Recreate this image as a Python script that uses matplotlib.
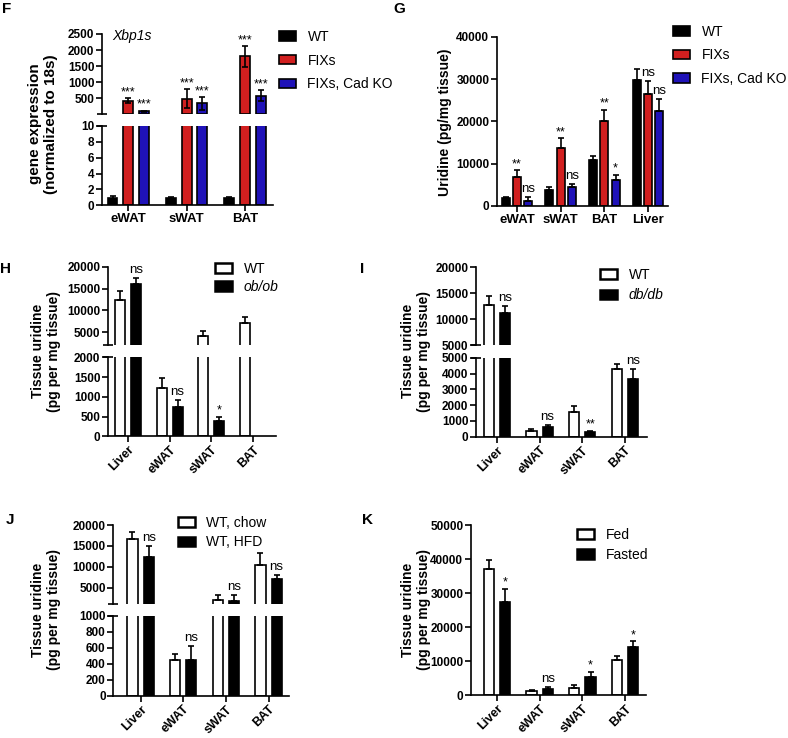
import numpy as np
import matplotlib
matplotlib.use('Agg')
import matplotlib.pyplot as plt
from matplotlib.patches import Patch

plt.rcParams['font.family'] = ['Liberation Sans', 'DejaVu Sans']

# ---------------- data ----------------
F_cats = ['eWAT', 'sWAT', 'BAT']
F_series = ['WT', 'FIXs', 'FIXs, Cad KO']
F_wt = [0.95, 0.93, 0.95]
F_wt_err = [0.22, 0.10, 0.13]
F_fix = [420, 480, 1800]
F_fix_err = [70, 290, 320]
F_ko = [80, 330, 570]
F_ko_err = [25, 200, 170]
F_fix_sig = ['***', '***', '***']
F_ko_sig = ['***', '***', '***']

G_cats = ['eWAT', 'sWAT', 'BAT', 'Liver']
G_series = ['WT', 'FIXs', 'FIXs, Cad KO']
G_wt = [1800, 3800, 10800, 29800]
G_wt_err = [300, 600, 950, 2500]
G_fix = [6900, 13800, 20200, 26500]
G_fix_err = [1600, 2200, 2500, 3000]
G_ko = [1200, 4500, 6100, 22500]
G_ko_err = [1000, 650, 1300, 2800]
G_fix_sig = ['**', '**', '**', 'ns']
G_ko_sig = ['ns', 'ns', '*', 'ns']

tissues = ['Liver', 'eWAT', 'sWAT', 'BAT']

H_series = ['WT', 'ob/ob']
H_wt = [12400, 1230, 4100, 7200]
H_wt_err = [2100, 240, 1300, 1350]
H_ob = [16000, 740, 400, np.nan]
H_ob_err = [1500, 170, 100, np.nan]
H_sig = ['ns', 'ns', '*', '']

I_series = ['WT', 'db/db']
I_wt = [12700, 380, 1550, 4320]
I_wt_err = [1800, 110, 420, 320]
I_db = [11100, 600, 280, 3680]
I_db_err = [1400, 150, 100, 620]
I_sig = ['ns', 'ns', '**', 'ns']

J_series = ['WT, chow', 'WT, HFD']
J_chow = [16600, 445, 2000, 10400]
J_chow_err = [1700, 80, 1300, 2950]
J_hfd = [12400, 445, 1800, 7000]
J_hfd_err = [2650, 175, 1500, 1000]
J_sig = ['ns', 'ns', 'ns', 'ns']

K_series = ['Fed', 'Fasted']
K_fed = [37200, 1200, 2100, 10300]
K_fed_err = [2400, 400, 800, 1250]
K_fast = [27400, 1900, 5400, 14200]
K_fast_err = [3800, 500, 1500, 1700]
K_sig = ['*', 'ns', '*', '*']

# ---------------- styling helpers ----------------
W, H = 788, 738
fig = plt.figure(figsize=(W / 100, H / 100), dpi=100)
LW = 1.2
TICK_FS = 8.5
XT_FS = 9.5
RED = '#d11f1f'
BLUE = '#1f12b8'


def rect(x0, y0, x1, y1):
    return [x0 / W, 1 - y1 / H, (x1 - x0) / W, (y1 - y0) / H]


def base_axes(r, bottom=True):
    ax = fig.add_axes(r)
    ax.patch.set_alpha(0)
    for s in ('top', 'right'):
        ax.spines[s].set_visible(False)
    for s in ('left', 'bottom'):
        ax.spines[s].set_linewidth(LW)
    ax.spines['bottom'].set_visible(bottom)
    ax.tick_params(direction='out', length=4, width=LW, pad=1.5)
    if not bottom:
        ax.tick_params(axis='x', bottom=False, labelbottom=False)
    return ax


def set_yticks(ax, ticks, labels=None):
    ax.set_yticks(ticks)
    ax.set_yticklabels([str(t) for t in ticks] if labels is None else labels,
                       fontsize=TICK_FS, fontweight='bold')


def set_xticks(ax, cats, rotate=False):
    x = np.arange(len(cats))
    ax.set_xticks(x)
    if rotate:
        ax.set_xticklabels(cats, fontsize=9, fontweight='bold', rotation=45,
                           ha='right', rotation_mode='anchor')
    else:
        ax.set_xticklabels(cats, fontsize=XT_FS, fontweight='bold')


def break_marks(ax_up, ax_lo):
    for ax, y in ((ax_up, 0), (ax_lo, 1)):
        w = 5 / (ax.get_position().width * W)
        ax.plot([-w, w], [y, y], transform=ax.transAxes, color='black', lw=LW,
                clip_on=False, solid_capstyle='butt')


def bars(axes, xpos, vals, errs, width, face, symmetric=False):
    vals = np.asarray(vals, float)
    errs = np.asarray(errs, float)
    yerr = errs if symmetric else [np.zeros_like(errs), errs]
    for ax in axes:
        ax.bar(xpos, vals, width, facecolor=face, edgecolor='black', linewidth=LW, zorder=2)
        ax.errorbar(xpos, vals, yerr=yerr, fmt='none', ecolor='black', elinewidth=LW,
                    capsize=2.5, capthick=LW, zorder=3)


def place_sig(axes, xpos, tops, labels):
    for xi, t, lab in zip(xpos, tops, labels):
        if not lab or np.isnan(t):
            continue
        target = axes[-1]
        for a in axes:
            if t <= a.get_ylim()[1]:
                target = a
                break
        if lab == 'ns':
            target.annotate('ns', (xi, t), xytext=(0, 1.5), textcoords='offset points',
                            ha='center', va='bottom', fontsize=9.5, annotation_clip=False)
        else:
            target.annotate(lab, (xi, t), xytext=(0, 0), textcoords='offset points',
                            ha='center', va='bottom', fontsize=9, annotation_clip=False)


def legend(handles, labels, x_px, y_top_px, spacing, italic=None):
    leg = fig.legend(handles, labels, loc='upper left',
                     bbox_to_anchor=(x_px / W, 1 - y_top_px / H), frameon=False,
                     fontsize=10, handlelength=1.25, handleheight=0.65,
                     handletextpad=0.8, labelspacing=spacing, borderpad=0,
                     borderaxespad=0)
    if italic is not None:
        leg.get_texts()[italic].set_fontstyle('italic')
    return leg


def ylabel(x_px, y_px, text, fs=10):
    fig.text(x_px / W, 1 - y_px / H, text, rotation=90, ha='center', va='center',
             fontsize=fs, fontweight='bold', linespacing=1.15)


def letter(x_px, y_px, s):
    fig.text(x_px / W, 1 - y_px / H, s, ha='left', va='top', fontsize=11,
             fontweight='bold')


# ---------------- Panel F ----------------
xF = np.arange(len(F_cats))
Fu = base_axes(rect(102, 34, 273, 113.7), bottom=False)
Fl = base_axes(rect(102, 126, 273, 205.3))
for ax in (Fu, Fl):
    ax.set_xlim(-0.45, 2.48)
Fu.set_ylim(10, 2500)
Fl.set_ylim(0, 10)
set_yticks(Fu, [500, 1000, 1500, 2000, 2500])
set_yticks(Fl, [0, 2, 4, 6, 8, 10])
set_xticks(Fl, F_cats)
offF, wF = 0.27, 0.17
bars([Fl], xF - offF, F_wt, F_wt_err, wF, 'black', symmetric=True)
bars([Fu, Fl], xF, F_fix, F_fix_err, wF, RED, symmetric=True)
bars([Fu, Fl], xF + offF, F_ko, F_ko_err, wF, BLUE, symmetric=True)
place_sig([Fl, Fu], xF, np.add(F_fix, F_fix_err), F_fix_sig)
place_sig([Fl, Fu], xF + offF, np.add(F_ko, F_ko_err), F_ko_sig)
break_marks(Fu, Fl)
Fu.text(0.06, 0.97, 'Xbp1s', transform=Fu.transAxes, style='italic', fontsize=10,
        ha='left', va='center')
ylabel(43, 124, 'gene expression\n(normalized to 18s)', fs=11)
legend([Patch(facecolor=c, edgecolor='black', linewidth=LW) for c in ('black', RED, BLUE)],
       F_series, 279, 30, 0.7)
letter(2, 2, 'F')

# ---------------- Panel G ----------------
xG = np.arange(len(G_cats))
Ga = base_axes(rect(497, 36.7, 668, 206))
Ga.set_xlim(-0.46, 3.46)
Ga.set_ylim(0, 40000)
set_yticks(Ga, [0, 10000, 20000, 30000, 40000])
set_xticks(Ga, G_cats)
offG, wG = 0.26, 0.18
bars([Ga], xG - offG, G_wt, G_wt_err, wG, 'black')
bars([Ga], xG, G_fix, G_fix_err, wG, RED)
bars([Ga], xG + offG, G_ko, G_ko_err, wG, BLUE)
place_sig([Ga], xG, np.add(G_fix, G_fix_err), G_fix_sig)
place_sig([Ga], xG + offG, np.add(G_ko, G_ko_err), G_ko_sig)
ylabel(445, 122, 'Uridine (pg/mg tissue)', fs=10)
legend([Patch(facecolor=c, edgecolor='black', linewidth=LW) for c in ('black', RED, BLUE)],
       G_series, 673, 25, 0.68)
letter(393, 2, 'G')


# ---------------- two-series panels ----------------
def two_series(axes, a, a_err, b, b_err, sig, xlim, series, leg_xy, leg_sp, italic=None):
    x = np.arange(len(tissues))
    off, w = 0.19, 0.24
    for ax in axes:
        ax.set_xlim(*xlim)
    bars(axes, x - off, a, a_err, w, 'white')
    bars(axes, x + off, b, b_err, w, 'black')
    place_sig(axes, x + off, np.add(b, b_err), sig)
    set_xticks(axes[0], tissues, rotate=True)
    legend([Patch(facecolor='white', edgecolor='black', linewidth=1.8),
            Patch(facecolor='black', edgecolor='black', linewidth=1.8)],
           series, leg_xy[0], leg_xy[1], leg_sp, italic=italic)


# Panel H
Hu = base_axes(rect(108, 266.7, 276, 345.4), bottom=False)
Hl = base_axes(rect(108, 357.3, 276, 436.3))
Hu.set_ylim(2000, 20000)
Hl.set_ylim(0, 2000)
set_yticks(Hu, [5000, 10000, 15000, 20000])
set_yticks(Hl, [0, 500, 1000, 1500, 2000])
two_series([Hl, Hu], H_wt, H_wt_err, H_ob, H_ob_err, H_sig, (-0.48, 3.55),
           H_series, (215, 262), 0.27, italic=1)
break_marks(Hu, Hl)
ylabel(46, 351, 'Tissue uridine\n(pg per mg tissue)')
letter(0, 262, 'H')

# Panel I
Iu = base_axes(rect(476, 267.3, 647, 345), bottom=False)
Il = base_axes(rect(476, 358, 647, 436.7))
Iu.set_ylim(5000, 20000)
Il.set_ylim(0, 5000)
set_yticks(Iu, [5000, 10000, 15000, 20000])
set_yticks(Il, [0, 1000, 2000, 3000, 4000, 5000])
two_series([Il, Iu], I_wt, I_wt_err, I_db, I_db_err, I_sig, (-0.49, 3.52),
           I_series, (600, 268), 0.44, italic=1)
break_marks(Iu, Il)
ylabel(416, 351, 'Tissue uridine\n(pg per mg tissue)')
letter(360, 262, 'I')

# Panel J
Ju = base_axes(rect(113.3, 525, 289, 604.4), bottom=False)
Jl = base_axes(rect(113.3, 616, 289, 695.7))
Ju.set_ylim(1000, 20000)
Jl.set_ylim(0, 1000)
set_yticks(Ju, [5000, 10000, 15000, 20000])
set_yticks(Jl, [0, 200, 400, 600, 800, 1000])
two_series([Jl, Ju], J_chow, J_chow_err, J_hfd, J_hfd_err, J_sig, (-0.64, 3.48),
           J_series, (178, 516), 0.37)
break_marks(Ju, Jl)
ylabel(46, 610, 'Tissue uridine\n(pg per mg tissue)')
letter(6, 513, 'J')

# Panel K
Ka = base_axes(rect(471, 525, 646, 695))
Ka.set_ylim(0, 50000)
set_yticks(Ka, [0, 10000, 20000, 30000, 40000, 50000])
two_series([Ka], K_fed, K_fed_err, K_fast, K_fast_err, K_sig, (-0.61, 3.49),
           K_series, (577, 528), 0.42)
ylabel(416, 610, 'Tissue uridine\n(pg per mg tissue)')
letter(362, 513, 'K')

fig.savefig('out.png', dpi=100)
